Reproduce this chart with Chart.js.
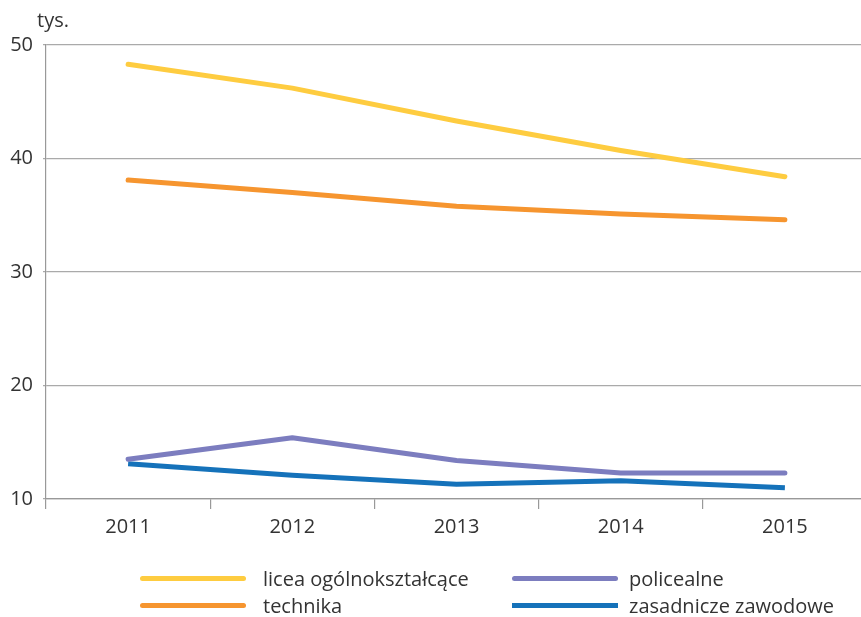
<!DOCTYPE html>
<html>
<head>
<meta charset="utf-8">
<script src="https://cdn.jsdelivr.net/npm/chart.js@4/dist/chart.umd.min.js"></script>
<style>
    body { margin: 0; background: #fff; overflow: hidden; }
    #wrap { position: relative; width: 861px; height: 617px; font-family: "Open Sans", sans-serif; color: #333; overflow: hidden; }
    #chart { position: absolute; left: 0; top: 0; }
    #unit { position: absolute; left: 37px; top: 6px; font-size: 20px; }
    #legend { position: absolute; left: 0; top: 0; width: 861px; height: 617px; pointer-events: none; }
    .item { position: absolute; display: flex; align-items: center; font-size: 20px; height: 26px; }
    .item span.line { display: inline-block; width: 106px; height: 5px; border-radius: 3px; }
</style>
</head>
<body>
<div id="wrap">
    <!-- canvas is a bit wider than the page: the original plot runs past the right edge -->
    <canvas id="chart" width="867" height="617"></canvas>
    <div id="unit">tys.</div>
    <div id="legend"></div>
</div>
<script>
var years = ["2011", "2012", "2013", "2014", "2015"];
var licea = [48.3, 46.2, 43.3, 40.7, 38.4];
var technika = [38.1, 37.0, 35.8, 35.1, 34.6];
var policealne = [13.5, 15.4, 13.4, 12.3, 12.3];
var zasadnicze = [13.1, 12.1, 11.3, 11.6, 11.0];
var yTicks = [10, 20, 30, 40, 50];

var series_names = ["licea ogólnokształcące", "technika", "policealne", "zasadnicze zawodowe"];
var series_values = [licea, technika, policealne, zasadnicze];
var myColors = ["#FECC40", "#F6952F", "#7C7DBF", "#1572BA"];
var caps = ["round", "round", "round", "butt"];

function init_plot(container_name) {
    var ctx = document.getElementById(container_name).getContext("2d");
    var datasets = [];
    for (let i = 0; i < series_names.length; i++) {
        datasets.push({
            label: series_names[i],
            data: series_values[i],
            borderColor: myColors[i],
            backgroundColor: myColors[i],
            borderWidth: 5,
            borderCapStyle: caps[i],
            borderJoinStyle: "round",
            pointRadius: 0,
            tension: 0
        });
    }
    const config = {
        type: "line",
        data: { labels: years, datasets: datasets },
        options: {
            animation: false,
            responsive: false,
            layout: { padding: { left: 0, right: 0, top: 45, bottom: 0 } },
            plugins: { legend: { display: false }, tooltip: { enabled: false } },
            scales: {
                x: {
                    offset: true,
                    grid: { offset: true, drawOnChartArea: false, tickLength: 10, color: "#999", lineWidth: 1.2 },
                    border: { color: "#999", width: 1.2 },
                    ticks: { color: "#333", font: { family: "Open Sans", size: 20 }, padding: 6 },
                    afterFit: function (s) { s.height = 118; }
                },
                y: {
                    min: 10,
                    max: 50,
                    afterBuildTicks: function (s) { s.ticks = yTicks.map(v => ({ value: v })); },
                    grid: { color: "#aaa", lineWidth: 1.2, tickLength: 3 },
                    border: { color: "#999", width: 1.2 },
                    ticks: { color: "#333", font: { family: "Open Sans", size: 20 }, padding: 10 },
                    afterFit: function (s) { s.width = 46; }
                }
            }
        }
    };
    return new Chart(ctx, config);
}

function build_legend(chart) {
    // two columns: left licea/technika, right policealne/zasadnicze
    var pos = [[140, 565, 17], [140, 592, 17], [512, 565, 11], [512, 592, 11]];
    var box = document.getElementById("legend");
    chart.data.datasets.forEach(function (ds, i) {
        var el = document.createElement("div");
        el.className = "item";
        el.style.left = pos[i][0] + "px";
        el.style.top = pos[i][1] + "px";
        var ln = document.createElement("span");
        ln.className = "line";
        ln.style.background = ds.borderColor;
        ln.style.marginRight = pos[i][2] + "px";
        if (caps[i] == "butt") ln.style.borderRadius = "0";
        el.appendChild(ln);
        el.appendChild(document.createTextNode(ds.label));
        box.appendChild(el);
    });
}

var plot = init_plot("chart");
build_legend(plot);
</script>
</body>
</html>
